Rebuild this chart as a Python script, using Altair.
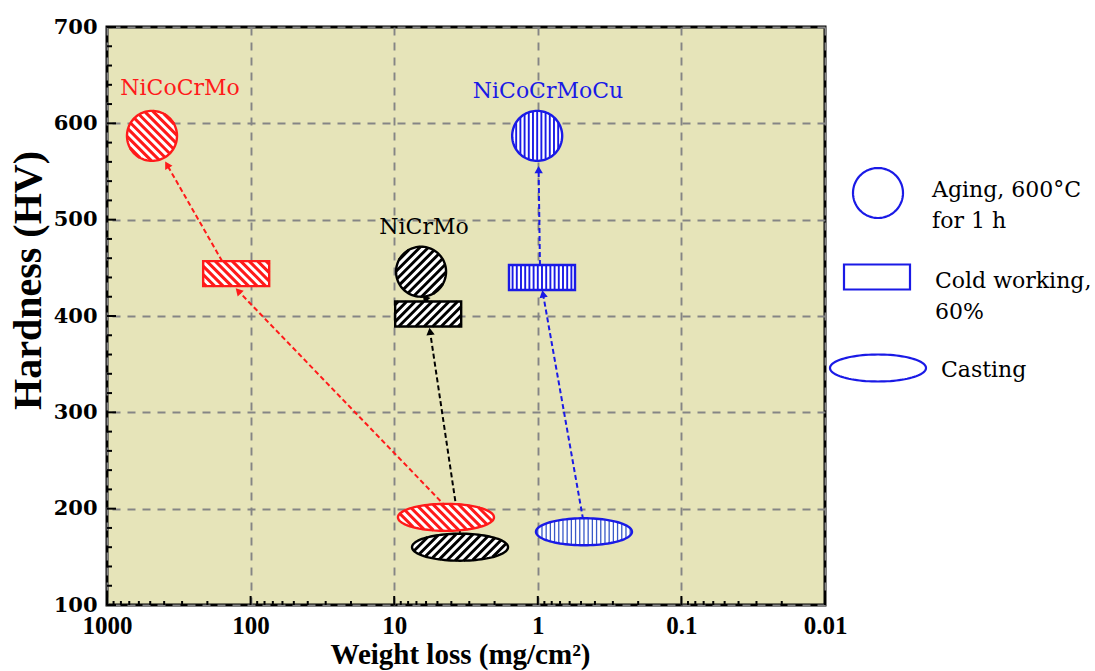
import math
import altair as alt
import pandas as pd

# ---------------- data ----------------
alloys = ["NiCoCrMo", "NiCrMo", "NiCoCrMoCu"]
alloy_colors = ["#ff1a1a", "#000000", "#1a1ae6"]
conditions = ["Casting", "Cold working", "Aging"]

# weight loss (mg/cm2) / hardness (HV), one value per alloy
wl_casting = [4.36, 3.48, 0.477]
hv_casting = [191, 160, 176]
wl_cold = [126, 5.8, 0.935]
hv_cold = [444, 402, 440]
wl_aging = [486, 6.5, 1.01]
hv_aging = [587, 446, 587]

# dashed arrows: start / end points
arrow_alloy = ["NiCoCrMo", "NiCoCrMo", "NiCrMo", "NiCrMo", "NiCoCrMoCu", "NiCoCrMoCu"]
arrow_wl_from = [4.36, 158, 3.48, 5.82, 0.484, 0.966]
arrow_hv_from = [202, 457, 175, 415, 189, 453]
arrow_wl_to = [122, 382, 5.63, 6.1, 0.92, 0.987]
arrow_hv_to = [426, 557, 384, 419, 423, 552]

# alloy name labels
label_wl = [310, 6.2, 0.849]
label_hv = [637, 492, 634]

x_ticks = [1000, 100, 10, 1, 0.1, 0.01]
y_ticks = [100, 200, 300, 400, 500, 600, 700]
y_minor = [v for v in range(100, 701, 20) if v % 100 != 0]
x_minor = [m * 10.0 ** e for e in range(-2, 3) for m in range(2, 10)]

legend_labels = [["Aging, 600°C", "for 1 h"], ["Cold working,", "60%"], ["Casting"]]

# ---------------- layout ----------------
W, H = 718, 578
XMIN, XMAX = 0.01, 1000
YMIN, YMAX = 100, 700


def px(wl):
    return (math.log10(XMAX) - math.log10(wl)) * W / (math.log10(XMAX) - math.log10(XMIN))


def py(hv):
    return (YMAX - hv) * H / (YMAX - YMIN)


# ---------------- shape paths (normalized [-1,1]) ----------------
def f(v):
    return f"{v:.4f}".rstrip("0").rstrip(".") if abs(v) > 1e-9 else "0"


def ellipse_outline(ry, n=96):
    pts = [(math.cos(2 * math.pi * k / n), ry * math.sin(2 * math.pi * k / n)) for k in range(n)]
    return "M" + " L".join(f"{f(x)},{f(y)}" for x, y in pts) + " Z"


def rect_outline(h):
    return f"M-1,{f(-h)} L1,{f(-h)} L1,{f(h)} L-1,{f(h)} Z"


def hatch(kind, ry, d, spacing):
    dx, dy = d
    L = math.hypot(dx, dy)
    dx, dy = dx / L, dy / L
    nx, ny = -dy, dx
    if kind == "ellipse":
        cmax = math.sqrt(nx ** 2 + (ry * ny) ** 2)
    else:
        cmax = abs(nx) + abs(ny) * ry
    segs = []
    k = int(cmax / spacing) + 1
    for i in range(-k, k + 1):
        c = i * spacing
        ox, oy = c * nx, c * ny
        if kind == "ellipse":
            A = dx ** 2 + (dy / ry) ** 2
            B = 2 * (ox * dx + oy * dy / ry ** 2)
            C = ox ** 2 + (oy / ry) ** 2 - 1
            disc = B * B - 4 * A * C
            if disc <= 0:
                continue
            t1 = (-B - math.sqrt(disc)) / (2 * A)
            t2 = (-B + math.sqrt(disc)) / (2 * A)
        else:
            t1, t2 = -1e9, 1e9
            ok = True
            for o, dd, lo, hi in ((ox, dx, -1, 1), (oy, dy, -ry, ry)):
                if abs(dd) < 1e-12:
                    if o < lo or o > hi:
                        ok = False
                    continue
                a, b = (lo - o) / dd, (hi - o) / dd
                t1, t2 = max(t1, min(a, b)), min(t2, max(a, b))
            if not ok or t2 <= t1:
                continue
        segs.append(f"M{f(ox + t1 * dx)},{f(oy + t1 * dy)} L{f(ox + t2 * dx)},{f(oy + t2 * dy)}")
    return " ".join(segs)


# pixel half-widths of the three symbols
CIRC_R, RECT_HW, RECT_HH, ELL_HW, ELL_HH = 25, 33, 12.5, 48, 13.5
shape_spec = {
    "Aging": ("ellipse", 1.0, CIRC_R),
    "Cold working": ("rect", RECT_HH / RECT_HW, RECT_HW),
    "Casting": ("ellipse", ELL_HH / ELL_HW, ELL_HW),
}
# hatch direction, period (px), line width per alloy
hatch_style = {
    "NiCoCrMo": ((1, 1), 6.0, 3.0),
    "NiCrMo": ((1, -1), 6.0, 2.9),
    "NiCoCrMoCu": ((0, 1), 4.2, 1.9),
}


def outline_path(kind, ry):
    return ellipse_outline(ry) if kind == "ellipse" else rect_outline(ry)


# ---------------- tables ----------------
rows = []
for i, a in enumerate(alloys):
    for cond, wls, hvs in (("Casting", wl_casting, hv_casting),
                           ("Cold working", wl_cold, hv_cold),
                           ("Aging", wl_aging, hv_aging)):
        rows.append({"alloy": a, "condition": cond, "wl": wls[i], "hv": hvs[i]})
pts = pd.DataFrame(rows)

arrows = pd.DataFrame({
    "alloy": arrow_alloy, "x1": arrow_wl_from, "y1": arrow_hv_from,
    "x2": arrow_wl_to, "y2": arrow_hv_to,
})
arrows["ang"] = [
    (math.degrees(math.atan2(px(b) - px(a), -(py(d) - py(c)))) + 360) % 360
    for a, c, b, d in zip(arrows.x1, arrows.y1, arrows.x2, arrows.y2)
]
labels = pd.DataFrame({"alloy": alloys, "wl": label_wl, "hv": label_hv})

xscale = alt.Scale(type="log", domain=[XMIN, XMAX], reverse=True, nice=False)
yscale = alt.Scale(domain=[YMIN, YMAX], nice=False)
GRID = dict(grid=True, gridDash=[8, 7], gridColor="#858585", gridWidth=1.9,
            ticks=False, domain=False, labelFlush=False, labelOverlap=False,
            labelColor="black", titleColor="black")

xaxis = alt.Axis(values=x_ticks, format="~g", title="Weight loss (mg/cm²)",
                 labelFont="Liberation Serif", labelFontSize=25, labelFontWeight="bold",
                 labelPadding=8, titleFont="Liberation Serif", titleFontSize=29,
                 titleFontWeight="bold", titleBaseline="alphabetic", titleX=353, titleY=58,
                 **GRID)
yaxis = alt.Axis(values=y_ticks, title="Hardness (HV)",
                 labelFont="DejaVu Serif", labelFontSize=21, labelFontWeight="bold",
                 labelPadding=10, titleFont="Liberation Serif", titleFontSize=40,
                 titleFontWeight="bold", titleBaseline="middle", titleX=-79, titleY=253,
                 **GRID)


def X(field="wl"):
    return alt.X(f"{field}:Q", scale=xscale, axis=xaxis)


def Y(field="hv"):
    return alt.Y(f"{field}:Q", scale=yscale, axis=yaxis)


layers = []

# inward ticks
layers.append(alt.Chart(pd.DataFrame({"v": y_ticks})).mark_rule(color="black", strokeWidth=2).encode(
    y=Y("v"), x=alt.value(0), x2=alt.value(9)))
layers.append(alt.Chart(pd.DataFrame({"v": y_minor})).mark_rule(color="black", strokeWidth=2).encode(
    y=Y("v"), x=alt.value(0), x2=alt.value(5)))
layers.append(alt.Chart(pd.DataFrame({"v": x_ticks})).mark_rule(color="black", strokeWidth=2).encode(
    x=X("v"), y=alt.value(H), y2=alt.value(H - 9)))
layers.append(alt.Chart(pd.DataFrame({"v": x_minor})).mark_rule(color="black", strokeWidth=2).encode(
    x=X("v"), y=alt.value(H), y2=alt.value(H - 4)))

# arrows
for a, col in zip(alloys, alloy_colors):
    sub = alt.Chart(arrows).transform_filter(alt.datum.alloy == a)
    layers.append(sub.mark_rule(color=col, strokeWidth=2, strokeDash=[5, 3]).encode(
        x=X("x1"), y=Y("y1"), x2="x2:Q", y2="y2:Q"))
    layers.append(sub.mark_point(shape="triangle-up", filled=True, size=70, color=col,
                                 opacity=1, strokeWidth=0).encode(
        x=X("x2"), y=Y("y2"), angle=alt.Angle("ang:Q", scale=None)))

# hatched symbols
for a, col in zip(alloys, alloy_colors):
    d, period, lw = hatch_style[a]
    for cond in conditions:
        kind, ry, hw = shape_spec[cond]
        size = (2 * hw) ** 2
        outline = outline_path(kind, ry)
        hpath = hatch(kind, ry, d, period / hw)
        hcol = col
        hlw = lw
        if a == "NiCoCrMoCu" and cond == "Casting":
            hcol, hlw = "#3a5ac8", 1.3
        sub = alt.Chart(pts).transform_filter(
            (alt.datum.alloy == a) & (alt.datum.condition == cond))
        enc = dict(x=X(), y=Y())
        layers.append(sub.mark_point(shape=outline, size=size, filled=True, color="white",
                                     opacity=1, strokeWidth=0).encode(**enc))
        layers.append(sub.mark_point(shape=hpath, size=size, filled=False, color=hcol,
                                     opacity=1, strokeWidth=hlw).encode(**enc))
        layers.append(sub.mark_point(shape=outline, size=size, filled=False, color=col,
                                     opacity=1, strokeWidth=2.4).encode(**enc))

# alloy labels
for a, col in zip(alloys, alloy_colors):
    layers.append(alt.Chart(labels).transform_filter(alt.datum.alloy == a).mark_text(
        font="DejaVu Serif", fontSize=22, color=col, align="center", baseline="middle").encode(
        x=X(), y=Y(), text="alloy:N"))

# legend (drawn at the right of the plot)
LEG = "#1a1ae6"
one = pd.DataFrame({"k": [0]})
leg_shapes = [
    (ellipse_outline(1.0), (2 * CIRC_R) ** 2, 771, 166),
    (rect_outline(RECT_HH / RECT_HW), (2 * RECT_HW) ** 2, 770, 250),
    (ellipse_outline(ELL_HH / ELL_HW), (2 * ELL_HW) ** 2, 771, 341),
]
for shp, size, lx, ly in leg_shapes:
    layers.append(alt.Chart(one).mark_point(shape=shp, size=size, filled=False, color=LEG,
                                            opacity=1, strokeWidth=2.2).encode(
        x=alt.value(lx), y=alt.value(ly)))
for txt, lx, ly in zip(legend_labels, [825, 828, 834], [170, 261, 350]):
    layers.append(alt.Chart(one).mark_text(text=txt, font="DejaVu Serif", fontSize=22,
                                           color="black", align="left", baseline="alphabetic",
                                           lineHeight=31).encode(
        x=alt.value(lx), y=alt.value(ly)))

chart = alt.layer(*layers).properties(
    width=W, height=H,
    autosize=alt.AutoSizeParams(type="none"),
    padding={"left": 107, "top": 27, "right": 270, "bottom": 66},
    background="white",
).configure_view(stroke="black", strokeWidth=3, fill="#e6e4b9")

chart.save("out.html", embed_options={"renderer": "svg", "actions": False})
